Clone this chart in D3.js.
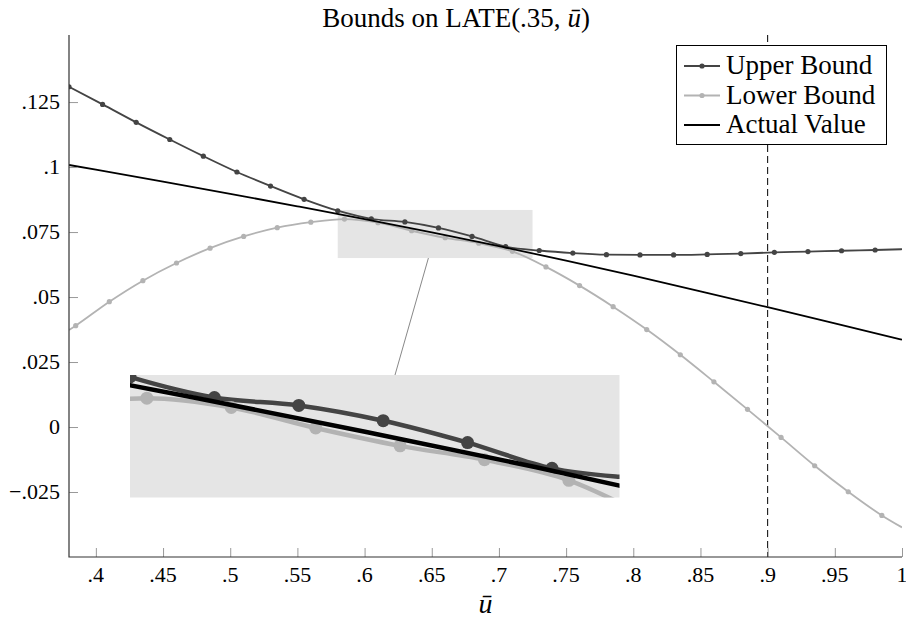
<!DOCTYPE html>
<html>
<head>
<meta charset="utf-8">
<script src="https://cdn.jsdelivr.net/npm/d3@7"></script>
<style>
  body { margin: 0; background: #fff; }
</style>
</head>
<body>
<div id="chart"></div>
<script>
// upper bound, marks at every point except the last
const upperU = [0.38, 0.405, 0.43, 0.455, 0.48, 0.505, 0.53, 0.555, 0.58, 0.605, 0.63, 0.655, 0.68,
  0.705, 0.73, 0.755, 0.78, 0.805, 0.83, 0.855, 0.88, 0.905, 0.93, 0.955, 0.98, 1.0];
const upperVal = [0.1309, 0.1241, 0.1172, 0.1106, 0.1042, 0.0981, 0.0927, 0.0876, 0.0832, 0.0801, 0.0789, 0.0766, 0.0733,
  0.0694, 0.0679, 0.0669, 0.0663, 0.0662, 0.0662, 0.0664, 0.0667, 0.0672, 0.0675, 0.0678, 0.0681, 0.0684];
// lower bound, first and last point carry no mark
const lowerU = [0.38, 0.385, 0.41, 0.435, 0.46, 0.485, 0.51, 0.535, 0.56, 0.585, 0.61, 0.635, 0.66, 0.685,
  0.71, 0.735, 0.76, 0.785, 0.81, 0.835, 0.86, 0.885, 0.91, 0.935, 0.96, 0.985, 1.0];
const lowerVal = [0.0373, 0.0390, 0.0482, 0.0563, 0.0631, 0.0688, 0.0733, 0.0767, 0.0788, 0.0800, 0.0786, 0.0755, 0.0728, 0.0707,
  0.0676, 0.0616, 0.0544, 0.0463, 0.0375, 0.0278, 0.0174, 0.0068, -0.0040, -0.0149, -0.0249, -0.0340, -0.0386];
const actualU = [0.38, 0.40, 0.45, 0.50, 0.55, 0.60, 0.65, 0.70, 0.75, 0.80, 0.85, 0.90, 0.95, 1.0];
const actualVal = [0.1008, 0.0990, 0.0944, 0.0897, 0.0849, 0.0800, 0.0749, 0.0696, 0.0640, 0.0582, 0.0522, 0.0461, 0.0399, 0.0336];

const xTicks = [0.4, 0.45, 0.5, 0.55, 0.6, 0.65, 0.7, 0.75, 0.8, 0.85, 0.9, 0.95, 1.0];
const xTickLabels = [".4", ".45", ".5", ".55", ".6", ".65", ".7", ".75", ".8", ".85", ".9", ".95", "1"];
const yTicks = [0.125, 0.1, 0.075, 0.05, 0.025, 0, -0.025];
const yTickLabels = [".125", ".1", ".075", ".05", ".025", "0", "\u2212.025"];
const legendNames = ["Upper Bound", "Lower Bound", "Actual Value"];
const markerLine = 0.9;
const zoomU = [0.58, 0.725];
const zoomV = [0.065, 0.0835];

const W = 906, H = 619;
const margin = { top: 35, right: 4, bottom: 62, left: 69 };
const serif = '"Liberation Serif"';

const svg = d3.select("#chart").append("svg")
  .attr("width", W).attr("height", H);

const x = d3.scaleLinear().domain([0.38, 1.0]).range([margin.left, W - margin.right]);
const y = d3.scaleLinear().domain([-0.05, 0.1508]).range([H - margin.bottom, margin.top]);

const series = [
  { name: legendNames[0], u: upperU, v: upperVal, color: "#444444", marked: (i, n) => i < n - 1 },
  { name: legendNames[1], u: lowerU, v: lowerVal, color: "#b3b3b3", marked: (i, n) => i > 0 && i < n - 1 },
  { name: legendNames[2], u: actualU, v: actualVal, color: "#000000", marked: () => false }
];

svg.append("defs").append("clipPath").attr("id", "plotclip")
  .append("rect")
  .attr("x", margin.left).attr("y", margin.top)
  .attr("width", W - margin.left - margin.right)
  .attr("height", H - margin.top - margin.bottom);

// small zoom rectangle on the main plot
svg.append("rect")
  .attr("x", x(zoomU[0])).attr("y", y(zoomV[1]))
  .attr("width", x(zoomU[1]) - x(zoomU[0]))
  .attr("height", y(zoomV[0]) - y(zoomV[1]))
  .attr("fill", "#e5e5e5");

// inset frame and its scales
const inset = { x0: 130, x1: 619.5, y0: 375, y1: 497.5 };
const xi = d3.scaleLinear().domain(zoomU).range([inset.x0, inset.x1]);
const yi = d3.scaleLinear().domain(zoomV).range([inset.y1, inset.y0]);

svg.append("line")
  .attr("x1", x(0.6475)).attr("y1", y(zoomV[0]))
  .attr("x2", xi(0.6585)).attr("y2", inset.y0)
  .attr("stroke", "#888").attr("stroke-width", 1);

svg.append("line")
  .attr("x1", x(markerLine)).attr("x2", x(markerLine))
  .attr("y1", margin.top).attr("y2", H - margin.bottom)
  .attr("stroke", "#000").attr("stroke-width", 1)
  .attr("stroke-dasharray", "7,4");

function drawSeries(g, sx, sy, lw, r) {
  series.forEach(s => {
    const pts = s.u.map((u, i) => [u, s.v[i]]);
    const line = d3.line().x(d => sx(d[0])).y(d => sy(d[1])).curve(d3.curveMonotoneX);
    g.append("path").datum(pts)
      .attr("d", line)
      .attr("fill", "none")
      .attr("stroke", s.color)
      .attr("stroke-width", lw)
      .attr("stroke-linejoin", "round");
    g.selectAll(null)
      .data(pts.filter((d, i) => s.marked(i, pts.length)))
      .enter().append("circle")
      .attr("cx", d => sx(d[0]))
      .attr("cy", d => sy(d[1]))
      .attr("r", r)
      .attr("fill", s.color);
  });
}

const main = svg.append("g").attr("clip-path", "url(#plotclip)");
drawSeries(main, x, y, 1.8, 2.6);

// inset
svg.append("defs").append("clipPath").attr("id", "insetclip")
  .append("rect")
  .attr("x", inset.x0).attr("y", inset.y0)
  .attr("width", inset.x1 - inset.x0).attr("height", inset.y1 - inset.y0);
svg.append("rect")
  .attr("x", inset.x0).attr("y", inset.y0)
  .attr("width", inset.x1 - inset.x0).attr("height", inset.y1 - inset.y0)
  .attr("fill", "#e5e5e5");
const ing = svg.append("g").attr("clip-path", "url(#insetclip)");
drawSeries(ing, xi, yi, 4.5, 6.5);

// axes
const xAxis = svg.append("g")
  .attr("transform", `translate(0,${H - margin.bottom})`)
  .call(d3.axisTop(x).tickValues(xTicks).tickSize(9).tickFormat(""));
xAxis.select(".domain").remove();
xAxis.selectAll(".tick line").attr("stroke", "#999");
svg.append("g").selectAll("text")
  .data(xTicks)
  .enter().append("text")
  .attr("x", d => x(d))
  .attr("y", H - margin.bottom + 25)
  .attr("text-anchor", "middle")
  .style("font-family", serif)
  .style("font-size", "22px")
  .text((d, i) => xTickLabels[i]);

const yAxis = svg.append("g")
  .attr("transform", `translate(${margin.left},0)`)
  .call(d3.axisRight(y).tickValues(yTicks).tickSize(9).tickFormat(""));
yAxis.select(".domain").remove();
yAxis.selectAll(".tick line").attr("stroke", "#999");
svg.append("g").selectAll("text")
  .data(yTicks)
  .enter().append("text")
  .attr("x", margin.left - 9)
  .attr("y", d => y(d) + 7)
  .attr("text-anchor", "end")
  .style("font-family", serif)
  .style("font-size", "22px")
  .text((d, i) => yTickLabels[i]);

svg.append("path")
  .attr("d", `M${margin.left},${margin.top}V${H - margin.bottom}H${W - margin.right}`)
  .attr("fill", "none")
  .attr("stroke", "#333")
  .attr("stroke-width", 1.2);

// title and axis label
const title = svg.append("text")
  .attr("x", 456).attr("y", 27)
  .attr("text-anchor", "middle")
  .style("font-family", serif)
  .style("font-size", "27px");
title.append("tspan").text("Bounds on LATE(.35, ");
title.append("tspan").style("font-style", "italic").text("\u016B");
title.append("tspan").text(")");

svg.append("text")
  .attr("x", (margin.left + W - margin.right) / 2)
  .attr("y", 613)
  .attr("text-anchor", "middle")
  .style("font-family", serif)
  .style("font-size", "28px")
  .style("font-style", "italic")
  .text("\u016B");

// legend
const lg = svg.append("g");
lg.append("rect")
  .attr("x", 676.5).attr("y", 45.5)
  .attr("width", 210).attr("height", 99)
  .attr("fill", "#fff").attr("stroke", "#000").attr("stroke-width", 1);
series.forEach((s, i) => {
  const cy = 66 + i * 29.5;
  lg.append("line")
    .attr("x1", 684).attr("x2", 720).attr("y1", cy).attr("y2", cy)
    .attr("stroke", s.color).attr("stroke-width", 1.8);
  if (i < 2) {
    lg.append("circle").attr("cx", 702).attr("cy", cy).attr("r", 2.6).attr("fill", s.color);
  }
  lg.append("text")
    .attr("x", 726).attr("y", cy + 8)
    .style("font-family", serif)
    .style("font-size", "27px")
    .text(s.name);
});
</script>
</body>
</html>
